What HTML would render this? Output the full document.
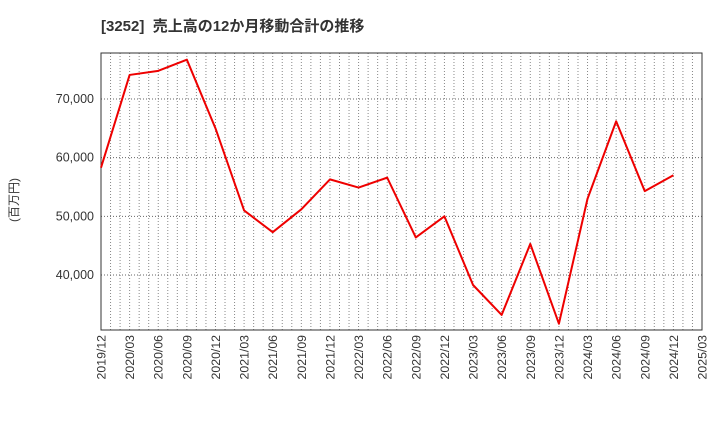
<!DOCTYPE html>
<html><head><meta charset="utf-8"><style>
body{margin:0;background:#fff;width:720px;height:440px;overflow:hidden}
svg text{font-family:"Liberation Sans","Noto Sans CJK JP",sans-serif}
</style></head><body>
<svg id="c" width="720" height="440">
<text x="101" y="31" font-size="15" font-weight="bold" fill="#333" style="white-space:pre">[3252]  売上高の12か月移動合計の推移</text>
<text transform="translate(18,200) rotate(-90)" font-size="12" fill="#333" text-anchor="middle">(百万円)</text>
</svg>
<script>
const categories=["2019/12","2020/03","2020/06","2020/09","2020/12","2021/03","2021/06","2021/09","2021/12","2022/03","2022/06","2022/09","2022/12","2023/03","2023/06","2023/09","2023/12","2024/03","2024/06","2024/09","2024/12","2025/03"];
const salesValues=[58300,74100,74800,76700,65000,51000,47300,51200,56300,54900,56600,46400,50000,38300,33200,45300,31700,53000,66200,54300,57000];
const yTicks=[40000,50000,60000,70000];
const L=101,R=702,T=53,B=330,yMin=30630,yMax=77840;
const NS="http://www.w3.org/2000/svg",svg=document.getElementById("c");
const xQ=i=>L+(R-L)*i/(categories.length-1);
const xM=m=>L+(R-L)*m/((categories.length-1)*3);
const y=v=>B-(v-yMin)/(yMax-yMin)*(B-T);
function mk(t,a){const e=document.createElementNS(NS,t);for(const k in a)e.setAttribute(k,a[k]);svg.appendChild(e);return e;}
for(let m=1;m<(categories.length-1)*3;m++){
 const g=mk("line",{x1:xM(m),x2:xM(m),y1:T,y2:B,stroke:"#888","stroke-width":1,"stroke-dasharray":"1,2"});
 
 
}
yTicks.forEach(v=>{
 const g=mk("line",{x1:L,x2:R,y1:y(v),y2:y(v),stroke:"#666","stroke-width":1,"stroke-dasharray":"1,2"});
 
 
 const t=mk("text",{x:L-7,y:y(v)+4,"font-size":12.5,fill:"#333","text-anchor":"end"});
 t.textContent=v.toLocaleString("en-US");
 
 
});
categories.forEach((c,i)=>{
 const t=mk("text",{transform:`translate(${xQ(i)+4.5},${B+5}) rotate(-90)`,"font-size":12.3,fill:"#333","text-anchor":"end"});
 t.textContent=c;
 
 
});
const fr=mk("rect",{x:L,y:T,width:R-L,height:B-T,fill:"none",stroke:"#333","stroke-width":1});


const line=mk("polyline",{points:salesValues.map((v,i)=>xQ(i)+","+y(v)).join(" "),fill:"none",stroke:"#ee0000","stroke-width":2,"stroke-linejoin":"round"});


</script>
</body></html>
